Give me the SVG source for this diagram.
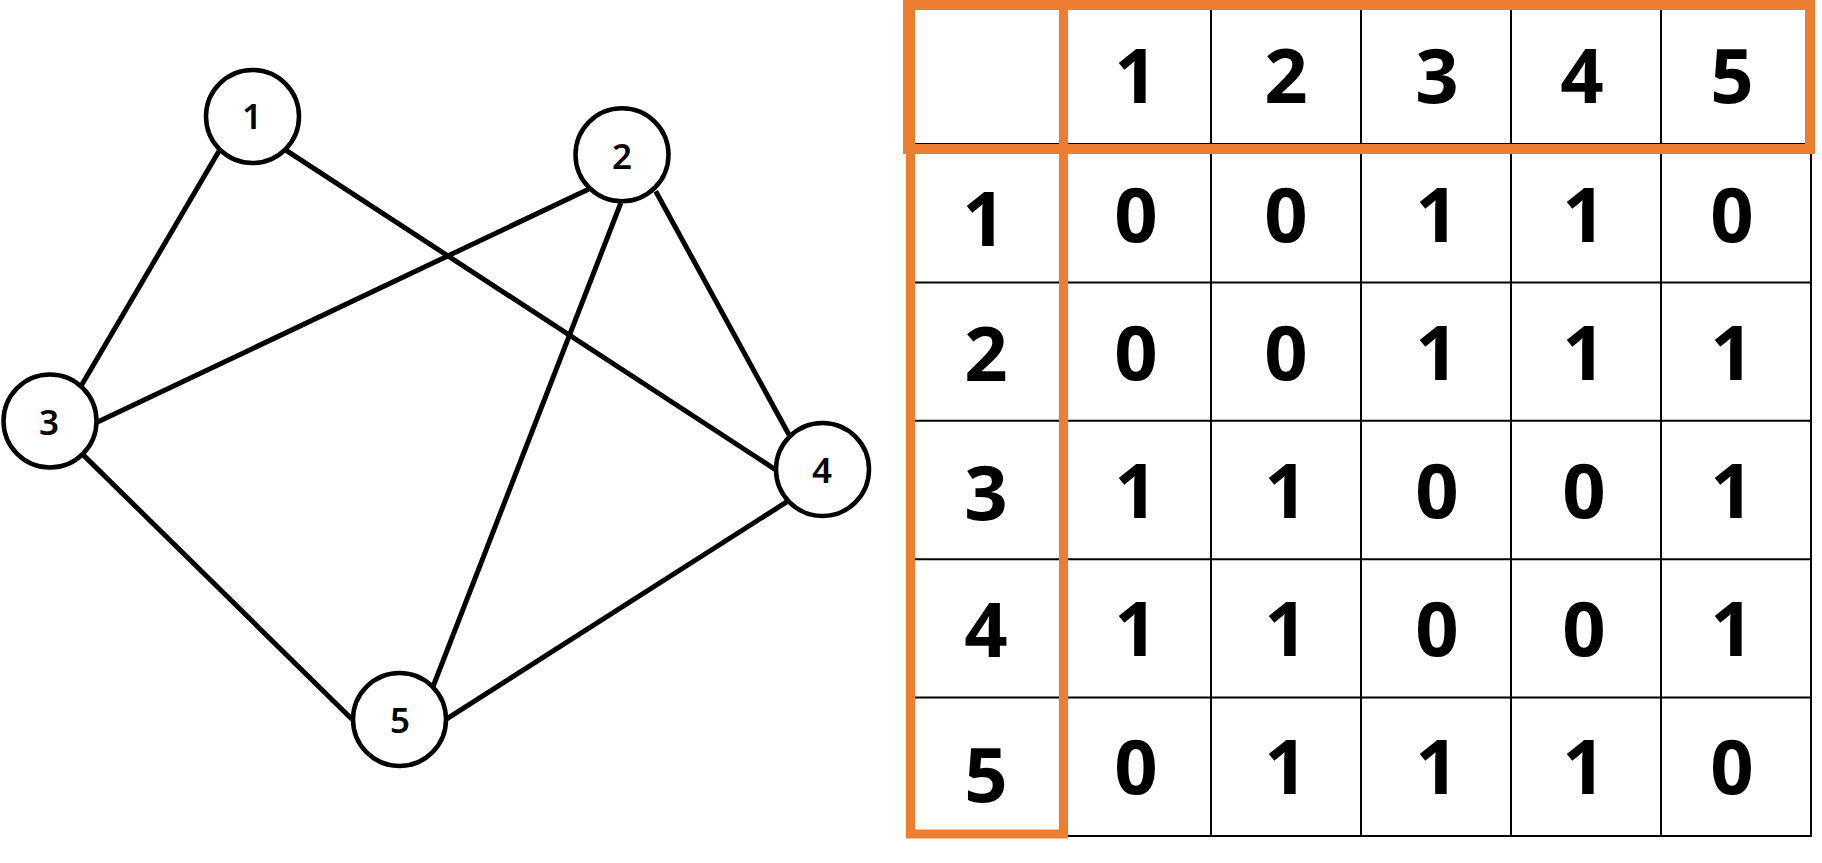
<svg xmlns="http://www.w3.org/2000/svg" width="1822" height="863" viewBox="0 0 1822 863">
  <style>
    .edge { stroke: #000; stroke-width: 5; stroke-linecap: butt; }
    .node circle { fill: #fff; stroke: #000; stroke-width: 4.5; }
    .nlabel { font-family: "Noto Sans", "Open Sans", sans-serif; font-weight: 600; font-size: 35px; text-anchor: middle; fill: #000; }
    .grid { stroke: #000; stroke-width: 2; fill: none; }
    .cell { font-family: "Noto Sans", "Open Sans", sans-serif; font-weight: bold; font-size: 76px; text-anchor: middle; fill: #000; }
    .hl { fill: none; stroke: #ED7D31; }
  </style>
  <rect width="1822" height="863" fill="#fff"/>

  <g id="connectors">
    <line class="edge" x1="219" y1="151" x2="80.5" y2="387"/>
    <line class="edge" x1="285" y1="149.6" x2="775" y2="469.3"/>
    <line class="edge" x1="588.5" y1="189.2" x2="96.5" y2="422.6"/>
    <line class="edge" x1="620.8" y1="203" x2="432.3" y2="688.5"/>
    <line class="edge" x1="655.7" y1="191.2" x2="789" y2="434.8"/>
    <line class="edge" x1="81.9" y1="453.6" x2="352" y2="719.3"/>
    <line class="edge" x1="446.3" y1="719.1" x2="786.7" y2="501.9"/>
  </g>

  <g id="node-1" class="node">
    <circle cx="252.5" cy="116.5" r="46.5"/>
    <text class="nlabel" x="252" y="129">1</text>
  </g>
  <g id="node-2" class="node">
    <circle cx="622" cy="154.7" r="46.5"/>
    <text class="nlabel" x="622" y="169">2</text>
  </g>
  <g id="node-3" class="node">
    <circle cx="50" cy="421" r="46.5"/>
    <text class="nlabel" x="49" y="435">3</text>
  </g>
  <g id="node-4" class="node">
    <circle cx="822.5" cy="469.5" r="46.5"/>
    <text class="nlabel" x="822" y="482.5">4</text>
  </g>
  <g id="node-5" class="node">
    <circle cx="399.5" cy="719.5" r="46.5"/>
    <text class="nlabel" x="400" y="733">5</text>
  </g>

  <g id="table">
    <g class="grid">
      <rect x="910" y="5" width="901" height="831"/>
      <line x1="910" y1="144" x2="1811" y2="144"/>
      <line x1="910" y1="282.4" x2="1811" y2="282.4"/>
      <line x1="910" y1="420.8" x2="1811" y2="420.8"/>
      <line x1="910" y1="559.2" x2="1811" y2="559.2"/>
      <line x1="910" y1="697.6" x2="1811" y2="697.6"/>
      <line x1="1062" y1="5" x2="1062" y2="836"/>
      <line x1="1211" y1="5" x2="1211" y2="836"/>
      <line x1="1361" y1="5" x2="1361" y2="836"/>
      <line x1="1511" y1="5" x2="1511" y2="836"/>
      <line x1="1661" y1="5" x2="1661" y2="836"/>
    </g>

    <g id="header-row">
      <text class="cell" x="1136" y="103">1</text>
      <text class="cell" x="1286" y="103">2</text>
      <text class="cell" x="1437" y="103">3</text>
      <text class="cell" x="1582" y="103">4</text>
      <text class="cell" x="1732" y="103">5</text>
    </g>
    <g id="row-labels">
      <text class="cell" x="984" y="246">1</text>
      <text class="cell" x="986" y="381">2</text>
      <text class="cell" x="986" y="520">3</text>
      <text class="cell" x="986" y="657">4</text>
      <text class="cell" x="986" y="802">5</text>
    </g>
    <g id="row-1">
      <text class="cell" x="1136" y="242">0</text>
      <text class="cell" x="1286" y="242">0</text>
      <text class="cell" x="1437" y="242">1</text>
      <text class="cell" x="1584" y="242">1</text>
      <text class="cell" x="1732" y="242">0</text>
    </g>
    <g id="row-2">
      <text class="cell" x="1136" y="380">0</text>
      <text class="cell" x="1286" y="380">0</text>
      <text class="cell" x="1437" y="380">1</text>
      <text class="cell" x="1584" y="380">1</text>
      <text class="cell" x="1732" y="380">1</text>
    </g>
    <g id="row-3">
      <text class="cell" x="1136" y="518">1</text>
      <text class="cell" x="1286" y="518">1</text>
      <text class="cell" x="1437" y="518">0</text>
      <text class="cell" x="1584" y="518">0</text>
      <text class="cell" x="1732" y="518">1</text>
    </g>
    <g id="row-4">
      <text class="cell" x="1136" y="656">1</text>
      <text class="cell" x="1286" y="656">1</text>
      <text class="cell" x="1437" y="656">0</text>
      <text class="cell" x="1584" y="656">0</text>
      <text class="cell" x="1732" y="656">1</text>
    </g>
    <g id="row-5">
      <text class="cell" x="1136" y="794">0</text>
      <text class="cell" x="1286" y="794">1</text>
      <text class="cell" x="1437" y="794">1</text>
      <text class="cell" x="1584" y="794">1</text>
      <text class="cell" x="1732" y="794">0</text>
    </g>

    <rect class="hl" x="910.5" y="5" width="153" height="829" stroke-width="9"/>
    <rect class="hl" x="908" y="5" width="902" height="144" stroke-width="10"/>
  </g>
</svg>
